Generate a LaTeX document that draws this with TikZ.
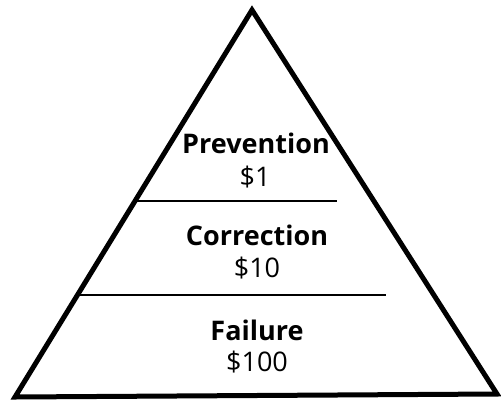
\documentclass[tikz,border=0pt]{standalone}
\usepackage{fontspec}
\setmainfont{Open Sans}
\begin{document}
\begin{tikzpicture}[x=1pt,y=-1pt,
  tri/.style={line width=5pt,line join=miter},
  divider/.style={line width=2.5pt},
  title/.style={anchor=base,inner sep=0pt,font=\fontsize{27}{32}\selectfont\bfseries},
  cost/.style={anchor=base,inner sep=0pt,font=\fontsize{27}{32}\selectfont}]
\useasboundingbox (0,0) rectangle (501,400);
\coordinate (apex) at (252,10);
\coordinate (bl) at (15,397);
\coordinate (br) at (497,394);
\draw[tri] (apex) -- (br) -- (bl) -- cycle;
\coordinate (d1l) at (136,201);
\coordinate (d1r) at (337,201);
\coordinate (d2l) at (77,295);
\coordinate (d2r) at (386,295);
\draw[divider] (d1l) -- (d1r);
\draw[divider] (d2l) -- (d2r);
\node[title] (prev) at (256,153) {Prevention};
\node[cost] (prevc) at (255,186) {\$1};
\node[title] (corr) at (257,245) {Correction};
\node[cost] (corrc) at (257,277) {\$10};
\node[title] (fail) at (257,340) {Failure};
\node[cost] (failc) at (257,371) {\$100};
\end{tikzpicture}
\end{document}
